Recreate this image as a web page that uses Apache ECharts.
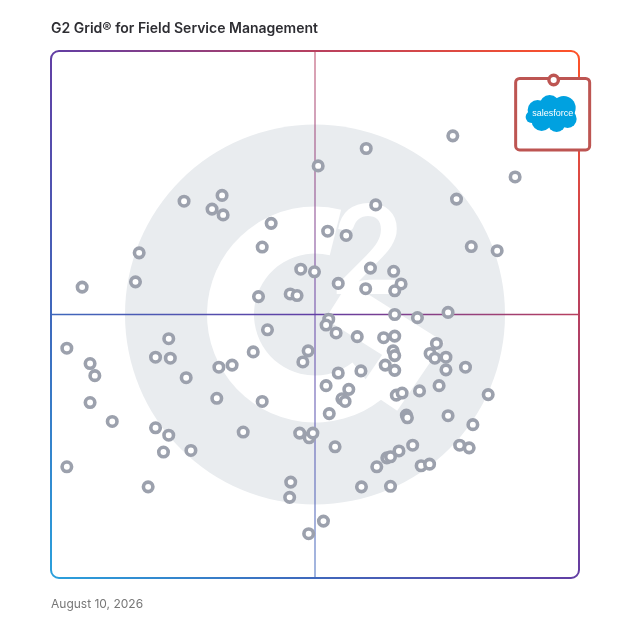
<!DOCTYPE html>
<html><head><meta charset="utf-8">
<script src="https://cdn.jsdelivr.net/npm/echarts@6/dist/echarts.min.js"></script>
<style>html,body{margin:0;padding:0;background:#fff}#c{width:628px;height:628px}</style>
</head><body><div id="c"></div>
<script>
const chartTitle = 'G2 Grid® for Field Service Management';
const dateLabel = 'August 10, 2026';
// Satisfaction (x) and Market Presence (y), 0-100 scale
const satisfaction = [76.1,59.7,50.6,25.2,32.4,30.5,32.6,61.5,76.8,41.7,52.4,55.9,40.0,16.7,79.6,84.5,16.0,47.3,49.9,60.5,
  64.9,66.3,65.1,54.4,59.6,39.3,45.3,46.6,65.1,69.4,75.2,52.6,52.1,54.0,58.0,63.0,65.1,41.0,22.3,19.8,
  22.6,38.3,48.7,47.7,31.8,34.3,25.6,64.8,65.1,63.3,65.1,58.7,54.4,73.0,71.8,72.7,74.8,74.8,78.5,52.1,
  56.4,55.1,55.7,73.5,82.8,65.4,66.5,69.8,31.4,40.0,52.7,67.3,67.5,75.2,79.9,19.8,22.3,36.4,47.1,48.9,
  49.6,53.8,68.5,77.4,79.2,65.9,63.6,64.3,61.7,70.1,71.7,21.3,26.5,18.4,45.4,45.2,58.8,64.3,5.9,87.9,
  3.0,7.4,8.3,7.4,11.6,3.0,51.6,48.8];
const marketPresence = [83.9,81.5,78.2,71.5,72.6,70.0,68.9,70.8,71.9,67.3,65.8,65.0,62.8,61.7,62.9,62.1,56.2,58.6,58.1,58.8,
  58.2,55.8,54.5,55.9,54.9,53.4,53.9,53.6,50.0,49.4,50.4,49.1,48.0,46.5,45.8,45.6,45.9,47.1,45.4,41.9,
  41.7,42.9,43.1,41.0,40.0,40.4,38.0,43.1,42.2,40.4,39.4,39.3,38.9,44.5,42.6,41.7,41.9,39.5,40.0,36.5,
  35.8,34.0,33.5,36.5,34.8,34.7,35.1,35.5,34.1,33.5,31.2,30.9,30.4,30.8,29.1,28.5,27.1,27.7,27.5,26.6,
  27.5,24.9,25.2,25.2,24.7,24.1,22.8,23.0,21.1,21.3,21.6,23.9,24.2,17.3,18.2,15.3,17.3,17.4,55.2,76.1,
  43.6,40.7,38.4,33.3,29.7,21.1,10.8,8.4];
const leaderName = 'salesforce';
const leaderPoint = [95.2, 94.5];
const axisMid = 50;

const chart = echarts.init(document.getElementById('c'), null, {renderer: 'canvas'});
chart.setOption({
  animation: false,
  title: {text: chartTitle, left: 51, top: 22, padding: 0,
    textStyle: {fontFamily: 'Inter', fontWeight: 600, fontSize: 14, color: '#2e2e33'}},
  grid: {left: 51, top: 51, width: 528, height: 527},
  xAxis: {type: 'value', min: 0, max: 100, show: false},
  yAxis: {type: 'value', min: 0, max: 100, show: false},
  series: [
    {type: 'scatter', z: 5, symbol: 'circle', symbolSize: 9.5,
      data: satisfaction.map((x, i) => [x, marketPresence[i]]),
      itemStyle: {color: '#ffffff', borderColor: '#9ca1ad', borderWidth: 3.6, opacity: 1}},
    {type: 'scatter', z: 10, symbol: 'circle', symbolSize: 9.5,
      data: [leaderPoint],
      itemStyle: {color: '#ffffff', borderColor: '#bd5552', borderWidth: 3.4, opacity: 1}}
  ]
});

const cp = chart.convertToPixel({gridIndex: 0}, [axisMid, axisMid]);
const p0 = chart.convertToPixel({gridIndex: 0}, [0, 0]);
const p1 = chart.convertToPixel({gridIndex: 0}, [100, 100]);
const sp = chart.convertToPixel({gridIndex: 0}, leaderPoint);
const L = p0[0], B = p0[1], R = p1[0], T = p1[1];
const stops = [
  {offset: 0, color: '#2aa0dc'}, {offset: 0.25, color: '#3f68bc'},
  {offset: 0.5, color: '#623ea4'}, {offset: 0.75, color: '#b8405f'}, {offset: 1, color: '#ff5328'}];
const grad = () => new echarts.graphic.LinearGradient(L, B, R, T, stops, true);
const deg = d => d * Math.PI / 180;
const cx = cp[0], cy = cp[1];
const cloud = '#00a1e0';

chart.setOption({graphic: [
  {type: 'circle', z: 0, silent: true, shape: {cx: cx, cy: cy, r: 190}, style: {fill: '#e9ecef'}},
  {type: 'sector', z: 0, silent: true, shape: {cx: cx, cy: cy, r: 108, r0: 61, startAngle: deg(52), endAngle: deg(284), clockwise: true}, style: {fill: '#ffffff'}},
  {type: 'polyline', z: 0, silent: true, shape: {points: [[cx + 22, cy - 14], [cx + 98, cy + 34], [cx + 64, cy + 84]]},
    style: {stroke: '#ffffff', lineWidth: 44, lineJoin: 'miter', fill: null}},
  {type: 'text', z: 0, silent: true, x: cx + 53, y: cy - 60,
    style: {text: '2', fill: '#ffffff', fontSize: 124, fontWeight: 'bold', fontFamily: 'Lato', align: 'center', verticalAlign: 'middle'}},
  {type: 'line', z: 1, silent: true, shape: {x1: L, y1: cy, x2: R, y2: cy}, style: {stroke: grad(), lineWidth: 1.5}},
  {type: 'line', z: 1, silent: true, shape: {x1: cx, y1: T, x2: cx, y2: B}, style: {stroke: grad(), lineWidth: 1.5, opacity: 0.65}},
  {type: 'rect', z: 1, silent: true, shape: {x: L, y: T, width: R - L, height: B - T, r: 8}, style: {fill: null, stroke: grad(), lineWidth: 2}},
  {type: 'group', z: 3, x: sp[0], y: sp[1], children: [
    {type: 'rect', z: 3, shape: {x: -38, y: -1.5, width: 74, height: 71.5, r: 4}, style: {fill: '#ffffff', stroke: '#bd5552', lineWidth: 3}},
    {type: 'circle', z: 3, shape: {cx: -16, cy: 30, r: 10}, style: {fill: cloud}},
    {type: 'circle', z: 3, shape: {cx: -4, cy: 25, r: 10}, style: {fill: cloud}},
    {type: 'circle', z: 3, shape: {cx: 10, cy: 28, r: 12}, style: {fill: cloud}},
    {type: 'circle', z: 3, shape: {cx: -12, cy: 41, r: 10}, style: {fill: cloud}},
    {type: 'circle', z: 3, shape: {cx: 3, cy: 43, r: 9}, style: {fill: cloud}},
    {type: 'circle', z: 3, shape: {cx: 14, cy: 39, r: 9}, style: {fill: cloud}},
    {type: 'circle', z: 3, shape: {cx: -22, cy: 37, r: 6}, style: {fill: cloud}},
    {type: 'rect', z: 3, shape: {x: -18, y: 28, width: 36, height: 14}, style: {fill: cloud}},
    {type: 'text', z: 4, x: -1, y: 34, style: {text: leaderName, fill: '#ffffff', fontSize: 9, fontFamily: 'Liberation Sans', align: 'center', verticalAlign: 'middle'}}
  ]},
  {type: 'text', z: 1, silent: true, left: 51, top: 598,
    style: {text: dateLabel, fill: '#777777', fontSize: 12, fontFamily: 'Inter'}}
]});
</script></body></html>
